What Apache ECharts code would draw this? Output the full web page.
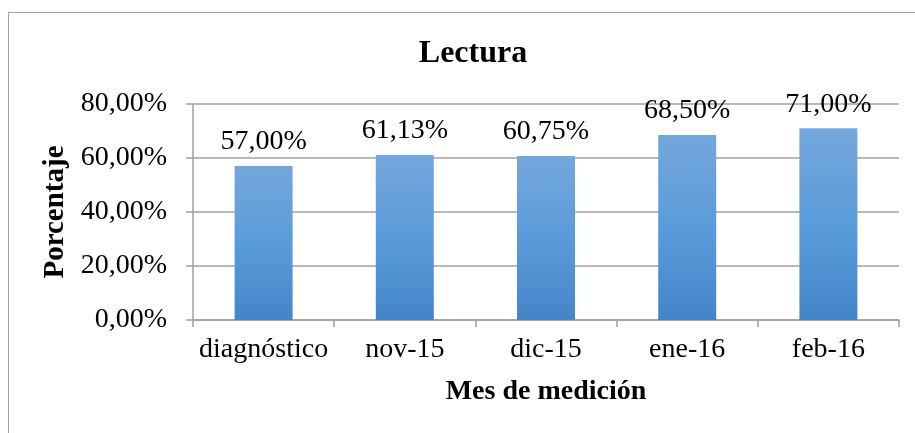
<!DOCTYPE html>
<html lang="es">

<head>
    <meta charset="UTF-8">
    <title>Lectura</title>
    <script src="https://cdn.jsdelivr.net/npm/echarts@6/dist/echarts.min.js"></script>
    <style>
        html, body { margin: 0; padding: 0; background: #fff; }
        #frame {
            position: absolute; left: 8px; top: 12px; width: 920px; height: 440px;
            border: 1px solid #a6a6a6; box-sizing: border-box;
        }
        #main { position: absolute; left: 0; top: 0; width: 915px; height: 433px; }
    </style>
</head>

<body>
<div id="frame"></div>
<div id="main"></div>
<script>
    const categories = ['diagnóstico', 'nov-15', 'dic-15', 'ene-16', 'feb-16']
    const values = [57.00, 61.13, 60.75, 68.50, 71.00]
    const yTicks = [0, 20, 40, 60, 80]

    const serif = '"Liberation Serif", "DejaVu Serif", serif'
    const pct = v => v.toFixed(2).replace('.', ',') + '%'

    const chart = echarts.init(document.getElementById('main'))
    chart.setOption({
        animation: false,
        title: {
            text: 'Lectura',
            left: 468, top: 33, textAlign: 'center',
            textStyle: { fontFamily: serif, fontWeight: 'bold', fontSize: 32, color: '#000' }
        },
        grid: { left: 193, right: 16, top: 104, bottom: 113 },
        xAxis: {
            type: 'category',
            data: categories,
            name: 'Mes de medición',
            nameLocation: 'middle',
            nameGap: 58,
            nameTextStyle: { fontFamily: serif, fontWeight: 'bold', fontSize: 28, color: '#000' },
            axisLine: { lineStyle: { color: '#a0a0a0', width: 1.5 } },
            axisTick: { show: true, length: 7, lineStyle: { color: '#a0a0a0', width: 1.5 } },
            axisLabel: { fontFamily: serif, fontSize: 28, color: '#000', margin: 16, interval: 0 }
        },
        yAxis: {
            type: 'value',
            min: yTicks[0],
            max: yTicks[yTicks.length - 1],
            interval: 20,
            name: 'Porcentaje',
            nameLocation: 'middle',
            nameGap: 111,
            nameRotate: 90,
            nameTextStyle: { fontFamily: serif, fontWeight: 'bold', fontSize: 29, color: '#000' },
            axisLine: { show: true, lineStyle: { color: '#a0a0a0', width: 1.5 } },
            axisTick: { show: true, length: 7, lineStyle: { color: '#a0a0a0', width: 1.5 } },
            splitLine: { lineStyle: { color: '#a0a0a0', width: 1.5 } },
            axisLabel: { fontFamily: serif, fontSize: 28, color: '#000', margin: 26, formatter: v => pct(v) }
        },
        series: [{
            type: 'bar',
            data: values,
            barWidth: 58,
            itemStyle: {
                color: new echarts.graphic.LinearGradient(0, 0, 0, 1, [
                    { offset: 0, color: '#74a7db' },
                    { offset: 0.5, color: '#5b9bda' },
                    { offset: 1, color: '#4386c8' }
                ])
            },
            label: {
                show: true,
                position: 'top',
                distance: 10,
                fontFamily: serif,
                fontSize: 28,
                color: '#000',
                formatter: p => pct(p.value)
            }
        }]
    })
</script>
</body>

</html>
